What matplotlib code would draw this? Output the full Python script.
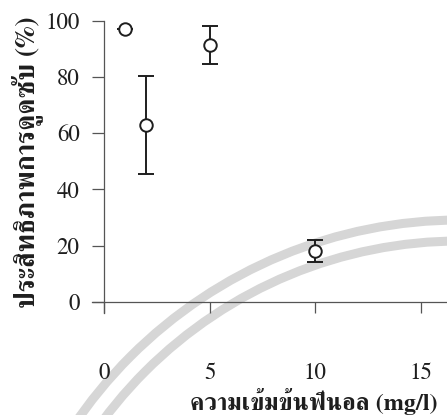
import matplotlib
matplotlib.use("Agg")
import matplotlib.pyplot as plt
from matplotlib.patches import Circle

# Adsorption efficiency vs. phenol concentration
conc = [1, 2, 5, 10]               # mg/l
efficiency = [97, 63, 91.5, 18]    # %
err_low = [0, 17.5, 6.7, 4]
err_high = [0, 17.5, 6.7, 4]

xticks = [0, 5, 10, 15]
yticks = [0, 20, 40, 60, 80, 100]
xlabel = "ความเข้มข้นฟีนอล (mg/l)"
ylabel = "ประสิทธิภาพการดูดซับ (%)"

plt.rcParams["font.family"] = ["FreeSerif", "DejaVu Serif"]
ink = "#1e1e1e"

fig = plt.figure(figsize=(4.47, 4.15), dpi=100)

# faint watermark rings of the scanned page (behind everything)
for r in (4.66, 4.45):
    fig.add_artist(Circle((4.60, -2.71), r, transform=fig.dpi_scale_trans,
                          fill=False, lw=6.5, ec="#d6d6d6", zorder=-1))

ax = fig.add_axes([92 / 447, 1 - 312.9 / 415, 355 / 447, 291.9 / 415])
ax.patch.set_alpha(0)

ax.errorbar(conc, efficiency, yerr=[err_low, err_high], fmt="o", ms=9,
            mfc="white", mec=ink, mew=1.4, ecolor=ink, elinewidth=1.4,
            capsize=5.5, capthick=1.4, zorder=3)

ax.set_xlim(-0.57, 16.25)
ax.set_ylim(-4, 100)
ax.set_xticks(xticks)
ax.set_yticks(yticks)

for s in ("top", "right"):
    ax.spines[s].set_visible(False)
ax.spines["left"].set_position(("data", 0))
ax.spines["bottom"].set_position(("data", 0))
for s in ("left", "bottom"):
    ax.spines[s].set_color("#555555")
    ax.spines[s].set_linewidth(0.9)

ax.tick_params(axis="y", direction="out", length=8.6, width=0.9, color="#555555",
               pad=9, labelsize=16.5, labelcolor=ink)
ax.tick_params(axis="x", direction="out", length=8, width=0.9, color="#555555",
               pad=36, labelsize=16.5, labelcolor=ink)

fig.text(190 / 447, 1 - 401 / 415, xlabel, ha="left", va="center",
         fontsize=17.5, fontweight="bold", color=ink)
fig.text(27 / 447, 1 - 162 / 415, ylabel, ha="center", va="center",
         rotation=90, fontsize=19.5, fontweight="bold", color=ink)

fig.savefig("out.png", dpi=100)
